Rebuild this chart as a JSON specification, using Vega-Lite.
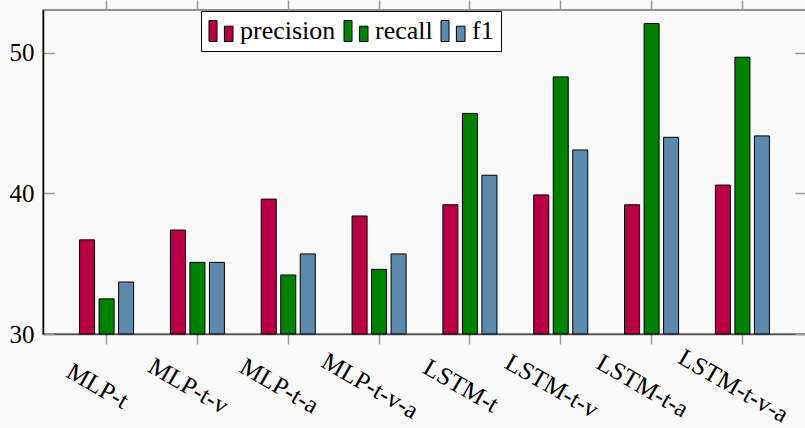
{
  "$schema": "https://vega.github.io/schema/vega-lite/v6.json",
  "width": 763,
  "height": 324,
  "autosize": {"type": "none"},
  "padding": {"left": 43, "top": 10, "right": 0, "bottom": 94},
  "background": "#fafafa",
  "config": {
    "font": "Liberation Serif, Times New Roman, DejaVu Serif, serif",
    "view": {"stroke": "#707070", "strokeWidth": 1.5}
  },
  "data": {
    "values": [
      {"model": "MLP-t", "metric": "precision", "value": 36.7},
      {"model": "MLP-t", "metric": "recall", "value": 32.5},
      {"model": "MLP-t", "metric": "f1", "value": 33.7},
      {"model": "MLP-t-v", "metric": "precision", "value": 37.4},
      {"model": "MLP-t-v", "metric": "recall", "value": 35.1},
      {"model": "MLP-t-v", "metric": "f1", "value": 35.1},
      {"model": "MLP-t-a", "metric": "precision", "value": 39.6},
      {"model": "MLP-t-a", "metric": "recall", "value": 34.2},
      {"model": "MLP-t-a", "metric": "f1", "value": 35.7},
      {"model": "MLP-t-v-a", "metric": "precision", "value": 38.4},
      {"model": "MLP-t-v-a", "metric": "recall", "value": 34.6},
      {"model": "MLP-t-v-a", "metric": "f1", "value": 35.7},
      {"model": "LSTM-t", "metric": "precision", "value": 39.2},
      {"model": "LSTM-t", "metric": "recall", "value": 45.7},
      {"model": "LSTM-t", "metric": "f1", "value": 41.3},
      {"model": "LSTM-t-v", "metric": "precision", "value": 39.9},
      {"model": "LSTM-t-v", "metric": "recall", "value": 48.3},
      {"model": "LSTM-t-v", "metric": "f1", "value": 43.1},
      {"model": "LSTM-t-a", "metric": "precision", "value": 39.2},
      {"model": "LSTM-t-a", "metric": "recall", "value": 52.1},
      {"model": "LSTM-t-a", "metric": "f1", "value": 44.0},
      {"model": "LSTM-t-v-a", "metric": "precision", "value": 40.6},
      {"model": "LSTM-t-v-a", "metric": "recall", "value": 49.7},
      {"model": "LSTM-t-v-a", "metric": "f1", "value": 44.1}
    ]
  },
  "layer": [
    {
      "mark": {"type": "bar", "stroke": "black", "strokeWidth": 1},
      "encoding": {
        "x": {
          "field": "model", "type": "nominal", "sort": null,
          "scale": {"paddingInner": 0, "paddingOuter": 0.2},
          "axis": {
            "orient": "bottom", "title": null,
            "labelAngle": 30, "labelAlign": "center", "labelBaseline": "top",
            "labelFont": "Liberation Serif, Times New Roman, DejaVu Serif, serif", "labelFontSize": 25, "labelColor": "black",
            "labelPadding": 31, "labelOffset": -3,
            "tickSize": 10, "tickColor": "#999999", "tickWidth": 1.5,
            "domainColor": "#555555", "domainWidth": 1.5
          }
        },
        "xOffset": {
          "field": "metric", "type": "nominal",
          "scale": {"domain": ["precision", "recall", "f1"], "paddingInner": 0.23, "paddingOuter": 0.943}
        },
        "y": {
          "field": "value", "type": "quantitative",
          "scale": {"domain": [30, 53.06], "nice": false, "zero": false},
          "axis": {
            "orient": "left", "title": null, "values": [30, 40, 50], "grid": false,
            "labelFont": "Liberation Serif, Times New Roman, DejaVu Serif, serif", "labelFontSize": 25, "labelColor": "black",
            "tickSize": -11, "labelPadding": 20, "tickColor": "#999999", "tickWidth": 1.5,
            "domainColor": "black", "domainWidth": 1.5
          }
        },
        "y2": {"datum": 30},
        "color": {
          "field": "metric", "type": "nominal",
          "scale": {"domain": ["precision", "recall", "f1"], "range": ["#b80046", "#008000", "#5d8aac"]},
          "legend": {
            "orient": "none", "legendX": 158, "legendY": 1,
            "direction": "horizontal", "title": null,
            "symbolType": "M -1 -0.875 H -0.333 V 0.875 H -1 Z M 0.283 -0.4 H 1 V 0.875 H 0.283 Z",
            "symbolSize": 576, "symbolStrokeColor": "black", "symbolStrokeWidth": 1, "symbolOpacity": 1,
            "labelFont": "Liberation Serif, Times New Roman, DejaVu Serif, serif", "labelFontSize": 26, "labelColor": "black",
            "labelOffset": 6, "columnPadding": 6, "padding": 7,
            "fillColor": "white", "strokeColor": "black"
          }
        }
      }
    },
    {
      "mark": {"type": "bar", "opacity": 0},
      "encoding": {
        "x": {
          "field": "model", "type": "nominal", "sort": null,
          "scale": {"paddingInner": 0, "paddingOuter": 0.2},
          "axis": {
            "orient": "top", "title": null, "labels": false, "domain": false,
            "tickSize": 10, "tickColor": "#999999", "tickWidth": 1.5
          }
        },
        "y": {
          "field": "value", "type": "quantitative",
          "scale": {"domain": [30, 53.06], "nice": false, "zero": false},
          "axis": {
            "orient": "right", "title": null, "values": [30, 40, 50], "grid": false,
            "labels": false, "domain": false,
            "tickSize": -11, "tickColor": "#999999", "tickWidth": 1.5
          }
        },
        "y2": {"datum": 30}
      }
    }
  ],
  "resolve": {"axis": {"x": "independent", "y": "independent"}}
}
